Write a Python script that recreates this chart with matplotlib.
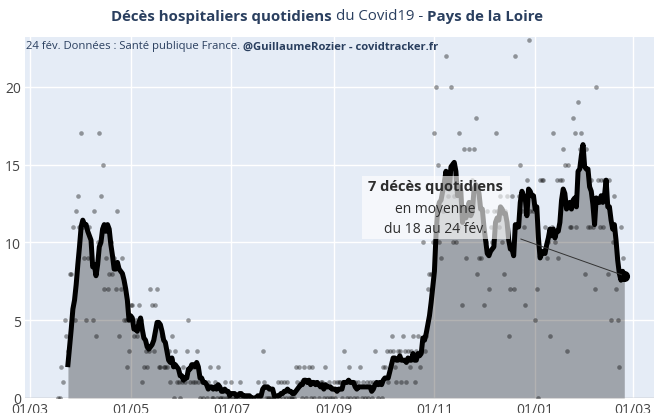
import matplotlib
matplotlib.use("Agg")
import matplotlib.pyplot as plt
import matplotlib.dates as mdates
from matplotlib.patches import Rectangle
import pandas as pd

# daily hospital deaths, Pays de la Loire, from 18/03/2020 to 24/02/2021
first_day = "2020-03-18"
deaths = [
    0, 0, 2, 1, 5, 4, 3, 8, 8, 11,
    5, 12, 13, 11, 17, 11, 9, 5, 9, 11,
    9, 5, 12, 4, 10, 17, 13, 15, 7, 9,
    7, 8, 10, 8, 9, 7, 12, 4, 7, 9,
    5, 5, 2, 3, 6, 6, 4, 5, 4, 6,
    5, 1, 2, 3, 2, 3, 7, 6, 3, 6,
    7, 2, 2, 4, 2, 2, 2, 3, 1, 4,
    0, 3, 1, 1, 0, 1, 2, 1, 3, 5,
    1, 2, 1, 1, 3, 1, 0, 1, 0, 1,
    0, 1, 2, 0, 0, 1, 0, 2, 0, 0,
    0, 1, 0, 0, 0, 1, 0, 0, 0, 0,
    1, 0, 0, 0, 0, 0, 0, 0, 0, 0,
    0, 1, 0, 0, 3, 1, 0, 0, 0, 0,
    0, 0, 0, 1, 0, 1, 0, 1, 0, 1,
    0, 0, 0, 0, 2, 1, 2, 1, 0, 2,
    0, 1, 2, 0, 2, 0, 1, 1, 0, 1,
    1, 0, 2, 0, 1, 0, 0, 1, 0, 1,
    1, 1, 0, 3, 1, 0, 2, 0, 1, 0,
    1, 0, 1, 2, 0, 1, 0, 1, 0, 1,
    0, 1, 3, 1, 0, 1, 0, 2, 2, 3,
    1, 3, 4, 3, 2, 1, 3, 3, 1, 4,
    3, 1, 3, 2, 3, 4, 1, 3, 4, 2,
    3, 10, 3, 4, 7, 8, 8, 10, 17, 20,
    15, 10, 9, 12, 14, 22, 13, 14, 20, 10,
    13, 10, 11, 17, 12, 6, 16, 9, 12, 16,
    11, 14, 16, 18, 8, 9, 9, 11, 6, 10,
    12, 7, 11, 10, 12, 17, 12, 11, 13, 10,
    8, 12, 13, 4, 7, 13, 7, 22, 11, 13,
    15, 12, 11, 6, 14, 23, 12, 13, 12, 5,
    7, 0, 14, 14, 14, 11, 9, 10, 4, 11,
    17, 10, 14, 9, 14, 14, 16, 15, 3, 15,
    11, 11, 18, 17, 11, 19, 16, 17, 16, 8,
    16, 11, 11, 14, 11, 7, 20, 14, 11, 14,
    11, 14, 14, 8, 14, 5, 10, 13, 7, 5,
    2, 11, 9, 8,
]

title_parts = [("Décès hospitaliers quotidiens", "bold"), ("du Covid19 -", "normal"),
               ("Pays de la Loire", "bold")]
sub_parts = [("24 fév. Données : Santé publique France.", "normal"),
             ("@GuillaumeRozier - covidtracker.fr", "bold")]
x_ticks = ["2020-03-01", "2020-05-01", "2020-07-01", "2020-09-01",
           "2020-11-01", "2021-01-01", "2021-03-01"]
y_ticks = [0, 5, 10, 15, 20]
note_bold = "7 décès quotidiens"
note_rest = "en moyenne\ndu 18 au 24 fév."

W, H = 654, 414
bg = "#e5ecf6"
txt_col = "#2a3f5f"
plt.rcParams["font.family"] = ["Open Sans", "DejaVu Sans"]

dates = pd.date_range(first_day, periods=len(deaths), freq="D")
daily = pd.Series(deaths, index=dates)
avg = daily.rolling(7).mean().dropna()

fig = plt.figure(figsize=(W / 100, H / 100), dpi=100)
ax = fig.add_axes([25 / W, 1 - 399 / H, 629 / W, 361 / H])
ax.set_facecolor(bg)

ax.scatter(daily.index, daily.values, s=11, color="black", alpha=0.38, linewidths=0, zorder=2)
ax.fill_between(avg.index, avg.values, 0, color="black", alpha=0.3, linewidth=0, zorder=1.5)
ax.plot(avg.index, avg.values, color="black", lw=3.6, solid_joinstyle="round", zorder=3)
ax.plot(avg.index[-1:], avg.values[-1:], "o", color="black", ms=7, zorder=3)

origin = pd.Timestamp("2020-03-01")
ax.set_xlim(origin - pd.Timedelta(days=3), origin + pd.Timedelta(days=378))
ax.set_ylim(0, 23.2)
ax.set_xticks(pd.to_datetime(x_ticks))
ax.xaxis.set_major_formatter(mdates.DateFormatter("%d/%m"))
ax.set_yticks(y_ticks)
ax.grid(True, color="white", lw=1)
ax.set_axisbelow(True)
for sp in ax.spines.values():
    sp.set_visible(False)
ax.axhline(0, color="#9aa0a8", lw=1, zorder=1.6)
ax.tick_params(length=0, labelsize=10, labelcolor="#444444", pad=3)

# annotation box
ax.add_patch(Rectangle((0.536, 0.44), 0.235, 0.175, transform=ax.transAxes,
                       facecolor="white", alpha=0.62, edgecolor="none", zorder=5))
ax.text(0.653, 0.587, note_bold, transform=ax.transAxes, ha="center", va="center",
        fontsize=10.5, fontweight="bold", color="#2d2d2d", zorder=6)
ax.text(0.653, 0.497, note_rest, transform=ax.transAxes, ha="center", va="center",
        fontsize=10, color="#2d2d2d", linespacing=1.45, zorder=6)
ax.annotate("", xy=(avg.index[-1], avg.values[-1]), xytext=(0.784, 0.443),
            textcoords="axes fraction",
            arrowprops=dict(arrowstyle="-", color="#333333", lw=0.7), zorder=6)


def put_parts(x, y, parts, size, align):
    r = fig.canvas.get_renderer()
    objs = [fig.text(0, y, t, fontsize=size, fontweight=w, color=txt_col,
                     ha="left", va="center") for t, w in parts]
    widths = [o.get_window_extent(r).width for o in objs]
    gap = size * 0.26 * 100 / 72
    total = sum(widths) + gap * (len(objs) - 1)
    start = x - total / 2 if align == "center" else x
    for o, w in zip(objs, widths):
        o.set_x(start / W)
        start += w + gap


put_parts(327, 1 - 17 / H, title_parts, 10.8, "center")
put_parts(26, 1 - 47 / H, sub_parts, 8.1, "left")

fig.savefig("out.png", dpi=100)
